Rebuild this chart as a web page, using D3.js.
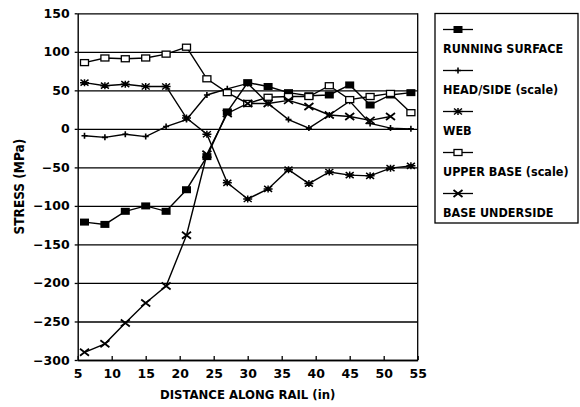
<!DOCTYPE html>
<html>
<head>
<meta charset="utf-8">
<script src="https://cdn.jsdelivr.net/npm/d3@7"></script>
<style>
  html, body { margin: 0; padding: 0; background: #fff; }
  svg { display: block; }
  text { font-family: "DejaVu Sans", sans-serif; font-weight: bold; fill: #000; }
  .cond { font-family: "DejaVu Sans Condensed", "DejaVu Sans", sans-serif; }
</style>
</head>
<body>
<svg id="chart" width="580" height="407"></svg>
<script>
// Stress along the rail, measured at 3 in spacing
const distance       = [6, 9, 12, 15, 18, 21, 24, 27, 30, 33, 36, 39, 42, 45, 48, 51, 54];
const runningSurface = [-121, -124, -107, -100, -107, -79, -36, 22, 60, 55, 47, 43, 44, 57, 31, 44, 47];
const headSide       = [-9, -11, -7, -10, 3, 12, 44, 52, 59, 33, 12, 1, 18, 36, 7, 1, 0];
const webStress      = [60, 56, 58, 55, 55, 14, -7, -70, -91, -78, -53, -71, -56, -60, -61, -51, -48];
const upperBase      = [86, 92, 91, 92, 97, 106, 65, 47, 33, 41, 42, 42, 56, 38, 42, 46, 21];
const baseUnderside  = [-290, -279, -252, -226, -204, -138, -33, 20, 33, 33, 37, 29, 18, 16, 11, 16, null];

const xTicks = [5, 10, 15, 20, 25, 30, 35, 40, 45, 50, 55];
const yTicks = [-300, -250, -200, -150, -100, -50, 0, 50, 100, 150];

const seriesNames = ["RUNNING SURFACE", "HEAD/SIDE (scale)", "WEB", "UPPER BASE (scale)", "BASE UNDERSIDE"];
const seriesValues = [runningSurface, headSide, webStress, upperBase, baseUnderside];
const seriesMarkers = ["filledSquare", "plus", "asterisk", "openSquare", "cross"];

const svg = d3.select("#chart");
const plot = { left: 77.7, right: 417.7, top: 13.3, bottom: 360 };

const x = d3.scaleLinear().domain([5, 55]).range([plot.left, plot.right]);
const y = d3.scaleLinear().domain([-300, 150]).range([plot.bottom, plot.top]);

// Horizontal grid lines
svg.append("g")
  .attr("transform", `translate(${plot.left},0)`)
  .call(d3.axisLeft(y).tickValues(yTicks).tickSize(-(plot.right - plot.left)).tickFormat(""))
  .call(g => g.select(".domain").remove())
  .call(g => g.selectAll("line").attr("stroke", "#000").attr("stroke-width", 1.3));

// Y axis with labels
svg.append("g")
  .attr("transform", `translate(${plot.left},0)`)
  .call(d3.axisLeft(y).tickValues(yTicks).tickSizeInner(3).tickSizeOuter(0).tickPadding(5))
  .call(g => g.select(".domain").attr("stroke", "#000").attr("stroke-width", 1.4))
  .call(g => g.selectAll("line").attr("stroke", "#000").attr("stroke-width", 1.3))
  .call(g => g.selectAll("text").style("font-size", "12.5px").style("font-family", "DejaVu Sans").style("font-weight", "bold"));

// X axis with labels
svg.append("g")
  .attr("transform", `translate(0,${plot.bottom})`)
  .call(d3.axisBottom(x).tickValues(xTicks).tickSizeInner(-4).tickSizeOuter(0).tickPadding(9))
  .call(g => g.select(".domain").attr("stroke", "#000").attr("stroke-width", 1.4))
  .call(g => g.selectAll("line").attr("stroke", "#000").attr("stroke-width", 1.3))
  .call(g => g.selectAll("text").style("font-size", "12.5px").style("font-family", "DejaVu Sans").style("font-weight", "bold"));

// Right frame
svg.append("line")
  .attr("x1", x(55)).attr("x2", x(55))
  .attr("y1", y(150)).attr("y2", y(-300))
  .attr("stroke", "#000").attr("stroke-width", 1.3);

// Axis titles
svg.append("text")
  .attr("class", "cond")
  .attr("x", (plot.left + plot.right) / 2).attr("y", 399)
  .attr("text-anchor", "middle").style("font-size", "13px")
  .text("DISTANCE ALONG RAIL (in)");

svg.append("text")
  .attr("class", "cond")
  .attr("transform", `translate(24,${(plot.top + plot.bottom) / 2}) rotate(-90)`)
  .attr("text-anchor", "middle").style("font-size", "13.5px")
  .text("STRESS (MPa)");

// Marker drawing
function drawMarker(g, type) {
  if (type === "filledSquare") {
    g.append("rect").attr("x", -4.5).attr("y", -3.5).attr("width", 9).attr("height", 7).attr("fill", "#000");
  } else if (type === "openSquare") {
    g.append("rect").attr("x", -4).attr("y", -3).attr("width", 8).attr("height", 6)
      .attr("fill", "#fff").attr("stroke", "#000").attr("stroke-width", 1.3);
  } else if (type === "plus") {
    g.append("path").attr("d", "M0,-3V3M-3,0H3").attr("stroke", "#000").attr("stroke-width", 1.6).attr("fill", "none");
  } else if (type === "asterisk") {
    g.append("path").attr("d", "M-4,-3L4,3M-4,3L4,-3M0,-3.5V3.5M-4.5,0H4.5")
      .attr("stroke", "#000").attr("stroke-width", 1.5).attr("fill", "none");
  } else if (type === "cross") {
    g.append("path").attr("d", "M-4.5,-3.5L4.5,3.5M-4.5,3.5L4.5,-3.5")
      .attr("stroke", "#000").attr("stroke-width", 1.8).attr("fill", "none");
  }
}

const line = d3.line()
  .defined(d => d[1] !== null)
  .x(d => x(d[0]))
  .y(d => y(d[1]));

const seriesLayer = svg.append("g");
seriesValues.forEach((vals, i) => {
  const pts = distance.map((d, j) => [d, vals[j]]);
  seriesLayer.append("path")
    .datum(pts)
    .attr("d", line)
    .attr("fill", "none")
    .attr("stroke", "#000")
    .attr("stroke-width", 1.4);
});
seriesValues.forEach((vals, i) => {
  const pts = distance.map((d, j) => [d, vals[j]]).filter(p => p[1] !== null);
  seriesLayer.selectAll(null)
    .data(pts)
    .join("g")
    .attr("transform", p => `translate(${x(p[0])},${y(p[1])})`)
    .each(function () { drawMarker(d3.select(this), seriesMarkers[i]); });
});

// Legend
const legend = svg.append("g");
legend.append("rect")
  .attr("x", 435).attr("y", 13.5).attr("width", 143).attr("height", 209.5)
  .attr("fill", "#fff").attr("stroke", "#000").attr("stroke-width", 1.3);

seriesNames.forEach((name, i) => {
  const baseY = 53 + i * 41;
  const symY = baseY - 23.5;
  legend.append("line")
    .attr("x1", 443).attr("x2", 473).attr("y1", symY).attr("y2", symY)
    .attr("stroke", "#000").attr("stroke-width", 1.3);
  drawMarker(legend.append("g").attr("transform", `translate(458,${symY})`), seriesMarkers[i]);
  legend.append("text")
    .attr("class", "cond")
    .attr("x", 443).attr("y", baseY)
    .style("font-size", "12.5px")
    .text(name);
});
</script>
</body>
</html>
